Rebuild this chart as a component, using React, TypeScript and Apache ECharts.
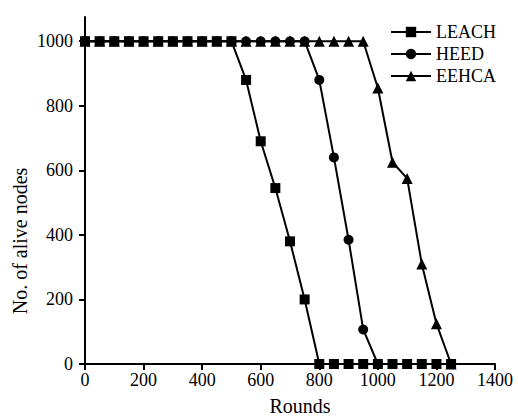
import React, { useEffect, useRef } from "react";
import * as echarts from "echarts";

const seriesNames = ["LEACH", "HEED", "EEHCA"];

const leachRounds = [0, 50, 100, 150, 200, 250, 300, 350, 400, 450, 500, 550, 600, 650, 700, 750, 800, 850, 900, 950, 1000, 1050, 1100, 1150, 1200, 1250];
const leachAlive = [1000, 1000, 1000, 1000, 1000, 1000, 1000, 1000, 1000, 1000, 1000, 880, 690, 545, 380, 200, 0, 0, 0, 0, 0, 0, 0, 0, 0, 0];

const heedRounds = [0, 50, 100, 150, 200, 250, 300, 350, 400, 450, 500, 550, 600, 650, 700, 750, 800, 850, 900, 950, 1000];
const heedAlive = [1000, 1000, 1000, 1000, 1000, 1000, 1000, 1000, 1000, 1000, 1000, 1000, 1000, 1000, 1000, 1000, 880, 640, 385, 107, 0];

const eehcaRounds = [0, 50, 100, 150, 200, 250, 300, 350, 400, 450, 500, 550, 600, 650, 700, 750, 800, 850, 900, 950, 1000, 1050, 1100, 1150, 1200, 1250];
const eehcaAlive = [1000, 1000, 1000, 1000, 1000, 1000, 1000, 1000, 1000, 1000, 1000, 1000, 1000, 1000, 1000, 1000, 1000, 1000, 1000, 1000, 855, 625, 575, 310, 125, 0];

const yTicks = [0, 200, 400, 600, 800, 1000];
const xTicks = [0, 200, 400, 600, 800, 1000, 1200, 1400];

const FONT = "'Liberation Serif', 'Times New Roman', serif";

function pairs(xs: number[], ys: number[]) {
  return xs.map((x, i) => [x, ys[i]]);
}

export default function App() {
  const ref = useRef<HTMLDivElement>(null);
  useEffect(() => {
    if (!ref.current) return;
    const chart = echarts.init(ref.current, null, { renderer: "svg" });
    const common = {
      type: "line",
      color: "#000",
      lineStyle: { color: "#000", width: 2 },
      itemStyle: { color: "#000" },
      symbolSize: 10,
    };
    chart.setOption({
      animation: false,
      backgroundColor: "#fff",
      textStyle: { fontFamily: FONT, color: "#000" },
      grid: { left: 85, right: 23, top: 17, bottom: 55, containLabel: false },
      legend: {
        orient: "vertical",
        left: 385,
        top: 18,
        itemWidth: 40,
        itemHeight: 13,
        itemGap: 4,
        data: seriesNames,
        textStyle: { fontFamily: FONT, fontSize: 18, color: "#000" },
      },
      xAxis: {
        type: "value",
        min: 0,
        max: 1400,
        interval: 200,
        splitLine: { show: false },
        axisLine: { show: true, lineStyle: { color: "#000", width: 2 } },
        axisTick: { show: true, length: 6, lineStyle: { color: "#000", width: 2 } },
        axisLabel: {
          color: "#000",
          fontFamily: FONT,
          fontSize: 18,
          margin: 7,
          customValues: xTicks,
          formatter: (v: number) => String(v),
        },
      },
      yAxis: {
        type: "value",
        min: 0,
        max: 1075,
        splitLine: { show: false },
        axisLine: { show: true, lineStyle: { color: "#000", width: 2 } },
        axisTick: { show: true, length: 6, lineStyle: { color: "#000", width: 2 }, customValues: yTicks },
        axisLabel: {
          color: "#000",
          fontFamily: FONT,
          fontSize: 18,
          margin: 12,
          customValues: yTicks,
          formatter: (v: number) => String(v),
        },
      },
      graphic: [
        {
          type: "text",
          x: 20,
          y: 241,
          rotation: Math.PI / 2,
          style: {
            text: "No. of alive nodes",
            font: `20px ${FONT}`,
            fill: "#000",
            textAlign: "center",
            textVerticalAlign: "middle",
          },
        },
        {
          type: "text",
          x: 300,
          y: 406,
          style: {
            text: "Rounds",
            font: `20px ${FONT}`,
            fill: "#000",
            textAlign: "center",
            textVerticalAlign: "middle",
          },
        },
      ],
      series: [
        { ...common, name: "LEACH", symbol: "rect", z: 4, data: pairs(leachRounds, leachAlive) },
        { ...common, name: "HEED", symbol: "circle", z: 3, data: pairs(heedRounds, heedAlive) },
        { ...common, name: "EEHCA", symbol: "triangle", symbolSize: 11, z: 2, data: pairs(eehcaRounds, eehcaAlive) },
      ],
    });
    return () => chart.dispose();
  }, []);
  return (
    <div
      ref={ref}
      style={{ position: "absolute", left: 0, top: 0, width: 518, height: 419 }}
    />
  );
}
